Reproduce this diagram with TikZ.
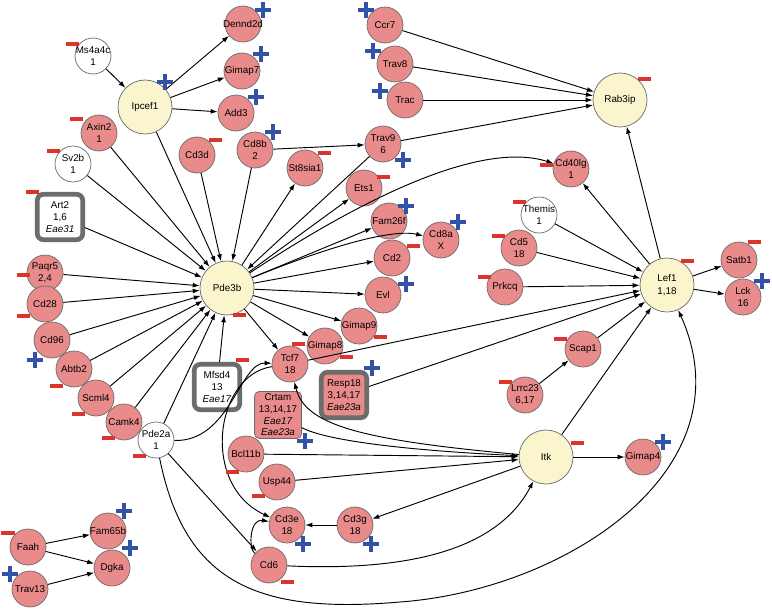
\documentclass[tikz,border=0pt]{standalone}
\usepackage{fontspec}
\setmainfont{Liberation Sans}
\usetikzlibrary{arrows.meta}

\definecolor{genepink}{RGB}{234,139,139}
\definecolor{hubyellow}{RGB}{250,245,205}
\definecolor{ringgray}{RGB}{105,105,105}
\definecolor{qtlgray}{RGB}{108,108,108}
\definecolor{minusred}{RGB}{218,52,45}
\definecolor{plusblue}{RGB}{50,82,165}

\newcommand\genefont{\fontsize{8.4}{10.5}\selectfont}
\newcommand\mns[1]{\fill[minusred] (#1) +(-6.5,-2) rectangle +(6.5,2);}
\newcommand\pls[1]{\draw[plusblue, line width=2.8pt] (#1) +(-8,0) -- +(8,0) +(0,-8) -- +(0,8);}

\tikzset{
  genetext/.style={align=center, font=\genefont, inner sep=0pt},
  gene/.style={circle, draw=ringgray, line width=0.6pt, fill=genepink,
    minimum size=1.08cm, inner sep=0pt, label={[genetext]center:#1}},
  lone/.style={gene={#1}, fill=white},
  hub/.style={circle, draw=ringgray, line width=0.6pt, fill=hubyellow,
    minimum size=1.62cm, inner sep=0pt, align=center, font=\genefont},
  qtl/.style={rectangle, rounded corners=5pt, draw=qtlgray, line width=4pt,
    fill=white, minimum size=1.36cm, inner sep=0pt, align=center, font=\genefont},
  crt/.style={rectangle, rounded corners=4pt, draw=ringgray, line width=0.6pt,
    fill=genepink, minimum size=1.41cm, inner sep=0pt, align=center,
    font=\fontsize{8.4}{10}\selectfont},
  arr/.style={-{Latex[length=6pt,width=4.2pt]}, line width=0.8pt},
}

\begin{document}
\begin{tikzpicture}[x=0.03cm, y=-0.03cm]
      \useasboundingbox (0,0) rectangle (772,610);

      % hubs
      \node[hub] (ipcef1) at (145,107) {Ipcef1};
      \node[hub] (pde3b) at (227,288) {Pde3b};
      \node[hub] (rab3ip) at (620,100) {Rab3ip};
      \node[hub] (lef1) at (667,285) {Lef1\\1,18};
      \node[hub] (itk) at (546,457) {Itk};

      % QTL boxes
      \node[qtl] (art2) at (60,217) {Art2\\1,6\\\textit{Eae31}};
      \node[qtl] (mfsd4) at (217,387) {Mfsd4\\13\\\textit{Eae17}};
      \node[qtl, fill=genepink] (resp18) at (344,395) {Resp18\\3,14,17\\\textit{Eae23a}};
      \node[crt] (crtam) at (278,415) {Crtam\\13,14,17\\\textit{Eae17}\\\textit{Eae23a}};

      % genes
      \node[lone={Ms4a4c\\1}] (ms4a4c) at (93,56) {};
      \node[lone={Sv2b\\1}] (sv2b) at (73,164) {};
      \node[lone={Themis\\1}] (themis) at (539,215) {};
      \node[lone={Pde2a\\1}] (pde2a) at (156,440) {};
      \node[gene=Dennd2d] (dennd2d) at (243,24) {};
      \node[gene=Gimap7] (gimap7) at (242,71) {};
      \node[gene=Add3] (add3) at (236,113) {};
      \node[gene=Cd3d] (cd3d) at (197,155) {};
      \node[gene={Cd8b\\2}] (cd8b) at (255,150) {};
      \node[gene={Axin2\\1}] (axin2) at (99,133) {};
      \node[gene={Paqr5\\2,4}] (paqr5) at (45,273) {};
      \node[gene=Cd28] (cd28) at (45,304) {};
      \node[gene=Cd96] (cd96) at (52,340) {};
      \node[gene=Abtb2] (abtb2) at (74,369) {};
      \node[gene=Scml4] (scml4) at (96,398) {};
      \node[gene=Camk4] (camk4) at (124,422) {};
      \node[gene={Tcf7\\18}] (tcf7) at (290,364) {};
      \node[gene=Gimap8] (gimap8) at (325,346) {};
      \node[gene=Gimap9] (gimap9) at (359,326) {};
      \node[gene=Evl] (evl) at (383,295) {};
      \node[gene=Cd2] (cd2) at (392,258) {};
      \node[gene={Cd8a\\X}] (cd8a) at (441,240) {};
      \node[gene=Fam26f] (fam26f) at (389,221) {};
      \node[gene=Ets1] (ets1) at (364,188) {};
      \node[gene=St8sia1] (st8sia1) at (305,168) {};
      \node[gene={Trav9\\6}] (trav9) at (383,144) {};
      \node[gene=Ccr7] (ccr7) at (385,25) {};
      \node[gene=Trav8] (trav8) at (395,64) {};
      \node[gene=Trac] (trac) at (405,100) {};
      \node[gene={Cd40lg\\1}] (cd40lg) at (571,169) {};
      \node[gene={Cd5\\18}] (cd5) at (519,248) {};
      \node[gene=Prkcq] (prkcq) at (505,287) {};
      \node[gene=Satb1] (satb1) at (739,260) {};
      \node[gene={Lck\\16}] (lck) at (743,297) {};
      \node[gene=Scap1] (scap1) at (583,349) {};
      \node[gene={Lrrc23\\6,17}] (lrrc23) at (525,395) {};
      \node[gene=Gimap4] (gimap4) at (643,457) {};
      \node[gene=Bcl11b] (bcl11b) at (246,454) {};
      \node[gene=Usp44] (usp44) at (277,482) {};
      \node[gene={Cd3e\\18}] (cd3e) at (287,525) {};
      \node[gene={Cd3g\\18}] (cd3g) at (355,525) {};
      \node[gene=Cd6] (cd6) at (269,565) {};
      \node[gene=Faah] (faah) at (28,547) {};
      \node[gene=Trav13] (trav13) at (30,589) {};
      \node[gene=Fam65b] (fam65b) at (108,531) {};
      \node[gene=Dgka] (dgka) at (112,568) {};

      % Ipcef1
      \draw[arr] (ms4a4c) -- (ipcef1);
      \draw[arr] (ipcef1) -- (dennd2d);
      \draw[arr] (ipcef1) -- (gimap7);
      \draw[arr] (ipcef1) -- (add3);

      % into Pde3b
      \draw[arr] (ipcef1) -- (pde3b);
      \draw[arr] (axin2) -- (pde3b);
      \draw[arr] (sv2b) -- (pde3b);
      \draw[arr] (art2) -- (pde3b);
      \draw[arr] (paqr5) -- (pde3b);
      \draw[arr] (cd28) -- (pde3b);
      \draw[arr] (cd96) -- (pde3b);
      \draw[arr] (abtb2) -- (pde3b);
      \draw[arr] (scml4) -- (pde3b);
      \draw[arr] (camk4) -- (pde3b);
      \draw[arr] (pde2a) -- (pde3b);
      \draw[arr] (mfsd4) -- (pde3b);
      \draw[arr] (cd3d) -- (pde3b);
      \draw[arr] (cd8b) -- (pde3b);
      \draw[arr] (trav9) -- (pde3b);

      % out of Pde3b
      \draw[arr] (pde3b) -- (st8sia1);
      \draw[arr] (pde3b) -- (ets1);
      \draw[arr] (pde3b) -- (fam26f);
      \draw[arr] (pde3b) -- (cd2);
      \draw[arr] (pde3b) -- (evl);
      \draw[arr] (pde3b) -- (gimap9);
      \draw[arr] (pde3b) -- (gimap8);
      \draw[arr] (pde3b) -- (tcf7);
      \draw[arr] (pde3b) .. controls (320,250) and (390,228) .. (cd8a);
      \draw[arr] (pde3b) .. controls (360,200) and (480,140) .. (cd40lg);

      % Rab3ip
      \draw[arr] (cd8b) -- (trav9);
      \draw[arr] (trav9) -- (rab3ip);
      \draw[arr] (ccr7) -- (rab3ip);
      \draw[arr] (trav8) -- (rab3ip);
      \draw[arr] (trac) -- (rab3ip);
      \draw[arr] (lef1) -- (rab3ip);

      % Lef1
      \draw[arr] (lef1) -- (cd40lg);
      \draw[arr] (themis) -- (lef1);
      \draw[arr] (cd5) -- (lef1);
      \draw[arr] (prkcq) -- (lef1);
      \draw[arr] (tcf7) -- (lef1);
      \draw[arr] (resp18) -- (lef1);
      \draw[arr] (scap1) -- (lef1);
      \draw[arr] (itk) -- (lef1);
      \draw[arr] (lef1) -- (satb1);
      \draw[arr] (lef1) -- (lck);
      \draw[arr] (lrrc23) -- (scap1);

      % Itk
      \draw[arr] (itk) -- (gimap4);
      \draw[arr] (crtam) .. controls (325,440) and (400,450) .. (itk);
      \draw[arr] (bcl11b) -- (itk);
      \draw[arr] (usp44) -- (itk);
      \draw[arr] (itk) .. controls (360,440) and (305,425) .. (tcf7);
      \draw[arr] (itk) -- (cd3g);
      \draw[arr] (cd3g) -- (cd3e);
      \draw[arr] (cd6) .. controls (420,572) and (500,545) .. (itk);
      \draw[arr] (cd6) .. controls (248,548) and (250,518) .. (cd3e);

      % Pde2a
      \draw[arr] (pde2a) .. controls (230,442) and (240,362) .. (tcf7);
      \draw[arr] (tcf7) .. controls (215,375) and (200,485) .. (cd3e);
      \draw[arr] (pde2a) -- (cd6);
      \draw[arr] (pde2a) .. controls (185,585) and (260,614) .. (400,602)
                         .. controls (565,590) and (750,470) .. (lef1);

      % Faah
      \draw[arr] (faah) -- (fam65b);
      \draw[arr] (faah) -- (dgka);
      \draw[arr] (trav13) -- (dgka);

      % badges
      \mns{72,44} \pls{165,82} \pls{263,10} \pls{261,54} \pls{256,97}
      \mns{215,140} \pls{273,132} \mns{76,119} \mns{53,151} \mns{32,192}
      \mns{324,153} \pls{403,160} \mns{383,177} \pls{366,10} \pls{373,51}
      \pls{380,91} \mns{644,79} \mns{546,165} \mns{519,202} \mns{498,236}
      \mns{484,277} \mns{687,261} \mns{754,242} \pls{762,281} \pls{406,206}
      \pls{458,222} \mns{413,246} \pls{406,284} \mns{380,337} \mns{298,344}
      \mns{346,357} \mns{560,339} \mns{505,382} \mns{577,443} \pls{663,442}
      \pls{372,368} \pls{305,441} \mns{232,472} \mns{258,496} \pls{303,544}
      \pls{371,544} \mns{287,582} \mns{242,360} \mns{239,315} \mns{23,275}
      \mns{23,316} \pls{35,360} \mns{56,386} \mns{78,414} \mns{108,438}
      \mns{139,456} \mns{8,533} \pls{10,574} \pls{124,511} \pls{130,548}
    \end{tikzpicture}
\end{document}
